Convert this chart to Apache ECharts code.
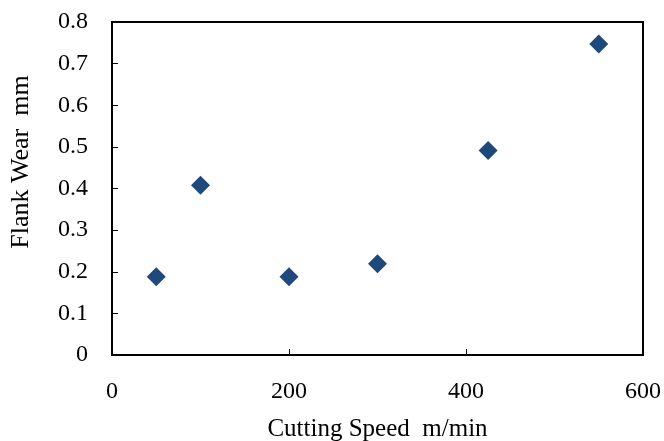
<!DOCTYPE html>
<html>
<head>
<meta charset="utf-8">
<script src="https://cdn.jsdelivr.net/npm/echarts@6/dist/echarts.min.js"></script>
<style>html,body{margin:0;padding:0;background:#fff;}#c{width:664px;height:441px;}</style>
</head>
<body>
<div id="c"></div>
<script>
var cuttingSpeed = [50, 100, 200, 300, 425, 550];
var flankWear = [0.188, 0.408, 0.188, 0.219, 0.491, 0.747];
var xTitle = 'Cutting Speed  m/min';
var yTitle = 'Flank Wear  mm';

var points = cuttingSpeed.map(function (v, i) { return [v, flankWear[i]]; });
var font = 'Liberation Serif';
var chart = echarts.init(document.getElementById('c'));
chart.setOption({
  animation: false,
  backgroundColor: '#fff',
  grid: { left: 112, right: 21, top: 22, bottom: 86, outerBoundsMode: 'none', containLabel: false,
    show: true, borderColor: '#000', borderWidth: 2, backgroundColor: 'transparent' },
  xAxis: {
    type: 'value', min: 0, max: 600, interval: 200,
    name: xTitle, nameLocation: 'middle', nameGap: 62,
    nameTextStyle: { fontFamily: font, fontSize: 25, color: '#000' },
    axisLine: { show: true, lineStyle: { color: '#000', width: 2 } },
    axisTick: { show: true, inside: true, length: 6, lineStyle: { color: '#000', width: 1 } },
    axisLabel: { fontFamily: font, fontSize: 24, color: '#000', margin: 25 },
    splitLine: { show: false }
  },
  yAxis: {
    type: 'value', min: 0, max: 0.8, interval: 0.1,
    axisLine: { show: true, lineStyle: { color: '#000', width: 2 } },
    axisTick: { show: true, inside: true, length: 6, lineStyle: { color: '#000', width: 1 } },
    axisLabel: { fontFamily: font, fontSize: 24, color: '#000', margin: 24,
      formatter: function (v) { return v === 0 ? '0' : v.toFixed(1); } },
    splitLine: { show: false }
  },
  graphic: [{
    type: 'text', x: 21, y: 162, rotation: Math.PI / 2,
    style: { text: yTitle, font: '26px "Liberation Serif"', fill: '#000', align: 'center', verticalAlign: 'middle' }
  }],
  series: [{
    type: 'scatter', data: points, symbol: 'diamond', symbolSize: 19,
    itemStyle: { color: '#1F497D', opacity: 1 }
  }]
});
</script>
</body>
</html>
